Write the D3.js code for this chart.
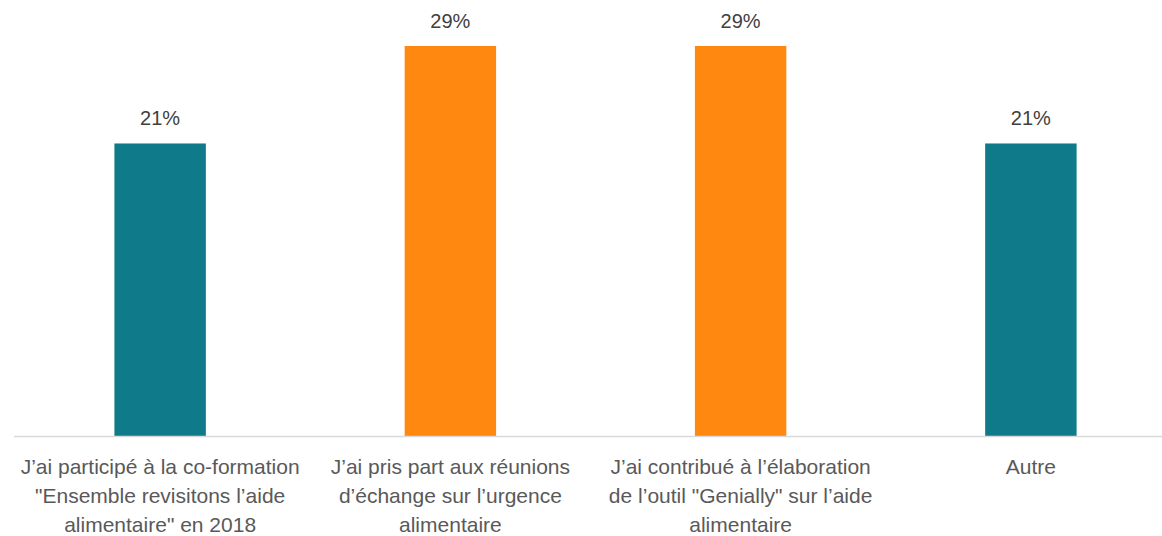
<!DOCTYPE html>
<html>
<head>
<meta charset="utf-8">
<script src="https://d3js.org/d3.v7.min.js"></script>
<style>
body { margin: 0; background: #fff; }
svg { display: block; font-family: 'Liberation Sans', Arial, sans-serif; }
</style>
</head>
<body>
<svg id="chart"></svg>
<script>
// data
var categories = [
  ["J\u2019ai participé à la co-formation", "\"Ensemble revisitons l\u2019aide", "alimentaire\" en 2018"],
  ["J\u2019ai pris part aux réunions", "d\u2019échange sur l\u2019urgence", "alimentaire"],
  ["J\u2019ai contribué à l\u2019élaboration", "de l\u2019outil \"Genially\" sur l\u2019aide", "alimentaire"],
  ["Autre"]
];
var values = [21.43, 28.57, 28.57, 21.43];
var valueLabels = ["21%", "29%", "29%", "21%"];
var colors = ["#0f7b8a", "#ff8811", "#ff8811", "#0f7b8a"];

var width = 1162, height = 536;
var svg = d3.select("#chart").attr("width", width).attr("height", height);

var x = d3.scaleBand()
  .domain(d3.range(categories.length))
  .range([15, 1176])
  .paddingInner(0.685)
  .paddingOuter(0.3425);

var y = d3.scaleLinear()
  .domain([0, 28.57])
  .range([436, 46]);

svg.selectAll("rect.bar").data(values).enter().append("rect")
  .attr("class", "bar")
  .attr("x", function(d, i) { return x(i); })
  .attr("y", function(d) { return y(d); })
  .attr("width", x.bandwidth())
  .attr("height", function(d) { return y(0) - y(d); })
  .style("fill", function(d, i) { return colors[i]; });

// baseline
svg.append("line")
  .attr("x1", 14).attr("x2", width)
  .attr("y1", y(0) + 0.5).attr("y2", y(0) + 0.5)
  .style("stroke", "#d9d9d9").style("stroke-width", 1.5);

// value labels
svg.selectAll("text.val").data(values).enter().append("text")
  .attr("class", "val")
  .attr("x", function(d, i) { return x(i) + x.bandwidth() / 2; })
  .attr("y", function(d) { return y(d) - 18; })
  .attr("text-anchor", "middle")
  .style("font-size", "20px")
  .style("fill", "#404040")
  .text(function(d, i) { return valueLabels[i]; });

// category labels
var cats = svg.selectAll("g.cat").data(categories).enter().append("g")
  .attr("class", "cat")
  .attr("transform", function(d, i) { return "translate(" + (x(i) + x.bandwidth() / 2) + ",0)"; });

cats.selectAll("text").data(function(d) { return d; }).enter().append("text")
  .attr("x", 0)
  .attr("y", function(d, j) { return 474 + j * 29; })
  .attr("text-anchor", "middle")
  .style("font-size", "21px")
  .style("fill", "#595959")
  .text(function(d) { return d; });
</script>
</body>
</html>
